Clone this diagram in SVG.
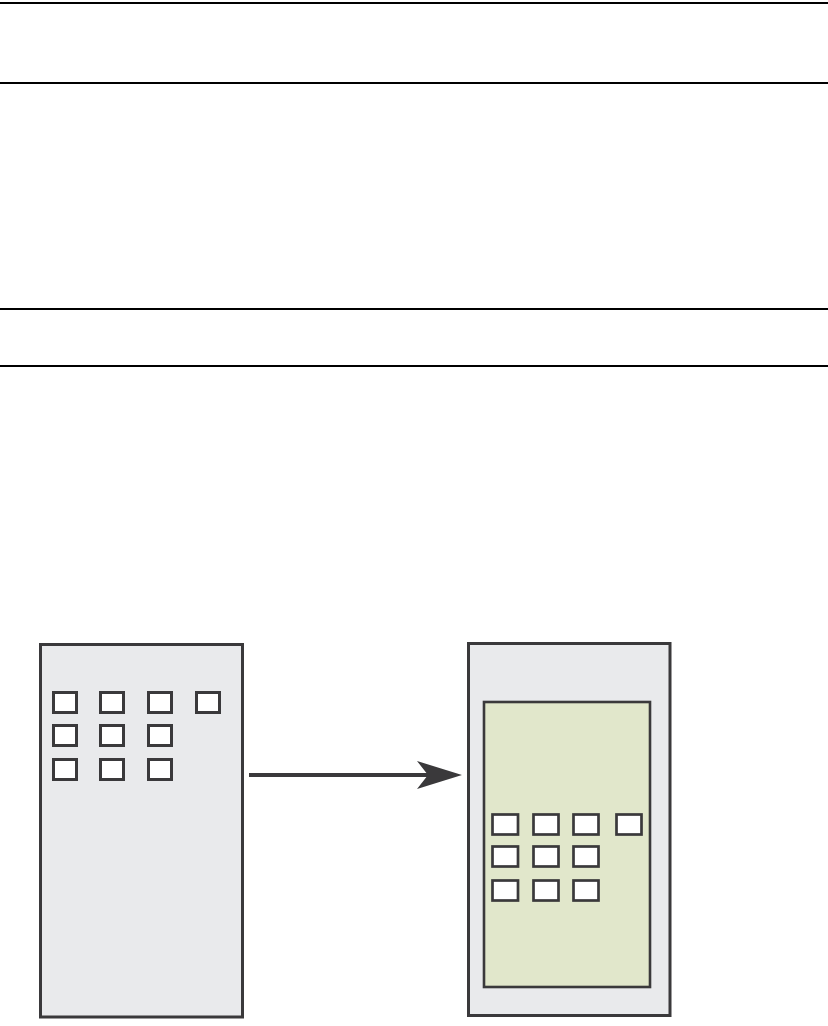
<svg xmlns="http://www.w3.org/2000/svg" width="828" height="1026" viewBox="0 0 828 1026">
  <style>
    .rule { stroke: #000; stroke-width: 2.2; }
    .panel { fill: #e9eaec; stroke: #3a393b; stroke-width: 3; }
    .inner { fill: #e1e7cb; stroke: #3a393b; stroke-width: 2.6; }
    .sq { fill: #fff; stroke: #3a393b; stroke-width: 3; }
    .sq2 { fill: #fff; stroke: #3a393b; stroke-width: 2.7; }
    .conn { stroke: #3a393b; stroke-width: 4; fill: none; }
  </style>
  <defs>
    <marker id="ah" markerUnits="userSpaceOnUse" markerWidth="46" markerHeight="30" refX="12" refY="14" orient="auto" viewBox="0 0 46 30">
      <path d="M0,0 L45,14 L0,28 L11,14 Z" fill="#3a393b"/>
    </marker>
  </defs>
  <rect width="828" height="1026" fill="#fff"/>
  <g id="rules">
    <line class="rule" x1="0" y1="3" x2="828" y2="3"/>
    <line class="rule" x1="0" y1="83" x2="828" y2="83"/>
    <line class="rule" x1="0" y1="309" x2="828" y2="309"/>
    <line class="rule" x1="0" y1="366" x2="828" y2="366"/>
  </g>
  <g id="left-panel">
    <rect class="panel" x="40.5" y="644.5" width="202" height="372.5"/>
    <rect class="sq" x="53.5" y="692.5" width="23" height="20"/>
    <rect class="sq" x="100.5" y="692.5" width="23" height="20"/>
    <rect class="sq" x="148.5" y="692.5" width="23" height="20"/>
    <rect class="sq" x="196.5" y="692.5" width="23" height="20"/>
    <rect class="sq" x="53.5" y="725.5" width="23" height="20"/>
    <rect class="sq" x="100.5" y="725.5" width="23" height="20"/>
    <rect class="sq" x="148.5" y="725.5" width="23" height="20"/>
    <rect class="sq" x="53.5" y="759.5" width="23" height="20"/>
    <rect class="sq" x="100.5" y="759.5" width="23" height="20"/>
    <rect class="sq" x="148.5" y="759.5" width="23" height="20"/>
  </g>
  <g id="right-panel">
    <rect class="panel" x="468.5" y="643.5" width="201.5" height="372" stroke-width="2.6"/>
    <rect class="inner" x="484" y="702" width="166" height="285"/>
    <rect class="sq2" x="492.5" y="814.5" width="25.5" height="20"/>
    <rect class="sq2" x="533.5" y="814.5" width="25" height="20"/>
    <rect class="sq2" x="573.5" y="814.5" width="25" height="20"/>
    <rect class="sq2" x="616.5" y="814.5" width="25" height="20"/>
    <rect class="sq2" x="492.5" y="846.5" width="25.5" height="20"/>
    <rect class="sq2" x="533.5" y="846.5" width="25" height="20"/>
    <rect class="sq2" x="573.5" y="846.5" width="25" height="20"/>
    <rect class="sq2" x="492.5" y="880.5" width="25.5" height="20"/>
    <rect class="sq2" x="533.5" y="880.5" width="25" height="20"/>
    <rect class="sq2" x="573.5" y="880.5" width="25" height="20"/>
  </g>
  <g id="connectors">
    <line class="conn" x1="249" y1="775" x2="429" y2="775" marker-end="url(#ah)"/>
  </g>
</svg>
